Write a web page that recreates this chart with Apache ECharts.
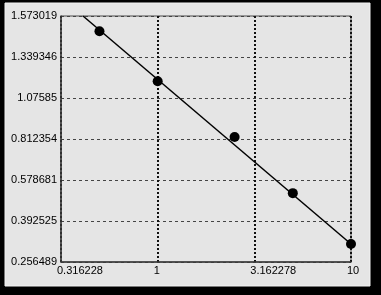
<!DOCTYPE html>
<html><head><meta charset="utf-8">
<script src="https://cdn.jsdelivr.net/npm/echarts@6/dist/echarts.min.js"></script>
<style>html,body{margin:0;padding:0;background:#000;}#c{width:381px;height:295px;}</style>
</head><body><div id="c"></div>
<script>
// Data
var xLabels = ['0.316228', '1', '3.162278', '10'];
var yLabels = ['0.256489', '0.392525', '0.578681', '0.812354', '1.07585', '1.339346', '1.573019'];
var pointX = [0.5, 1, 2.5, 5, 10];
var pointY = [1.4866, 1.184, 0.8255, 0.519, 0.3163];
var fitX = [0.411, 10];
var fitY = [1.573019, 0.3163];

// The y axis places its tick labels at equal steps; map values between them piecewise.
var yTicks = yLabels.map(Number);
function yIndex(v) {
  for (var i = 0; i < yTicks.length - 1; i++) {
    if (v <= yTicks[i + 1] || i === yTicks.length - 2) {
      return i + (v - yTicks[i]) / (yTicks[i + 1] - yTicks[i]);
    }
  }
}
var B = Math.sqrt(10);
function xLabel(v) {
  var k = Math.round(Math.log(v) / Math.log(B)) + 1;
  return xLabels[k] !== undefined ? xLabels[k] : '';
}

var chart = echarts.init(document.getElementById('c'), null, {renderer: 'canvas'});
var font = 'Liberation Sans, Arial, sans-serif';
chart.setOption({
  backgroundColor: '#000',
  animation: false,
  graphic: [{
    type: 'rect', z: -10, silent: true,
    shape: {x: 5, y: 3, width: 365, height: 283},
    style: {fill: '#e5e5e5', stroke: '#f2f2f2', lineWidth: 1}
  }],
  grid: {left: 61, top: 16, right: 30, bottom: 33, show: true, borderColor: '#4a4a4a', borderWidth: 1, backgroundColor: 'transparent'},
  xAxis: {
    type: 'log', logBase: B, min: Math.pow(10, -0.5), max: 10,
    axisLine: {show: true, onZero: false, lineStyle: {color: '#3a3a3a', width: 1.5}},
    axisTick: {show: false},
    axisLabel: {color: '#000', fontFamily: font, fontSize: 11, align: 'left', margin: 3, padding: [0, 0, 0, -4],
      showMinLabel: true, showMaxLabel: true, formatter: xLabel},
    splitLine: {show: true, lineStyle: {color: '#111', type: [2, 2], width: 2}}
  },
  yAxis: {
    type: 'value', min: 0, max: 6, interval: 1,
    axisLine: {show: true, onZero: false, lineStyle: {color: '#3a3a3a', width: 1.5}},
    axisTick: {show: false},
    axisLabel: {color: '#000', fontFamily: font, fontSize: 11, margin: 4,
      formatter: function (v) { return yLabels[Math.round(v)]; }},
    splitLine: {show: true, lineStyle: {color: '#444', type: [3, 3], width: 1}}
  },
  series: [{
    type: 'line', data: fitX.map(function (x, i) { return [x, yIndex(fitY[i])]; }),
    symbol: 'none', lineStyle: {color: '#000', width: 1.5}, z: 3
  }, {
    type: 'scatter', data: pointX.map(function (x, i) { return [x, yIndex(pointY[i])]; }),
    symbol: 'circle', symbolSize: 10, itemStyle: {color: '#000', opacity: 1}, z: 4
  }]
});
</script></body></html>
